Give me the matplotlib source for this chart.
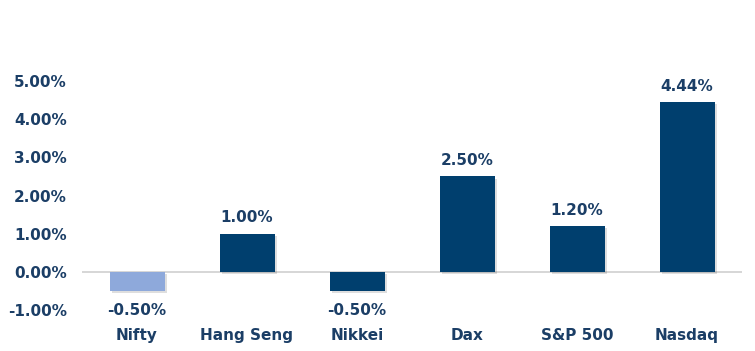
import matplotlib
matplotlib.use("Agg")
import matplotlib.pyplot as plt
import matplotlib.patheffects as pe

categories = ["Nifty", "Hang Seng", "Nikkei", "Dax", "S&P 500", "Nasdaq"]
values = [-0.50, 1.00, -0.50, 2.50, 1.20, 4.44]
yticks = [-1, 0, 1, 2, 3, 4, 5]

dark = "#003F6E"
light = "#8EA9DB"
text_c = "#1B3E66"
colors = [light] + [dark] * 5

plt.rcParams['font.family'] = ['DejaVu Sans']
FS = 11

W, H = 755, 351
fig = plt.figure(figsize=(W / 100, H / 100), dpi=100)
# axes in pixel coords: x 82..742, y(-1)=310, y(5)=81
ax = fig.add_axes([82 / W, (H - 310) / H, 660 / W, (310 - 81) / H])
x = list(range(len(categories)))
bars = ax.bar(x, values, width=0.5, color=colors, zorder=3)
for b in bars:
    b.set_path_effects([pe.SimplePatchShadow(offset=(1.5, -1.5), shadow_rgbFace='#000000', alpha=0.13), pe.Normal()])

ax.set_xlim(-0.5, 5.5)
ax.set_ylim(-1, 5)
ax.axhline(0, color="#D0D0D0", lw=1.2, zorder=2)
ax.set_yticks(yticks)
ax.set_yticklabels([f"{t:.2f}%" for t in yticks], fontsize=FS, fontweight='bold', color=text_c)
ax.set_xticks(x)
ax.set_xticklabels(categories, fontsize=FS, fontweight='bold', color=text_c)
ax.tick_params(axis='both', length=0)
ax.tick_params(axis='x', pad=13)
ax.tick_params(axis='y', pad=11)
for s in ax.spines.values():
    s.set_visible(False)

for xi, v in zip(x, values):
    if v >= 0:
        ax.annotate(f"{v:.2f}%", (xi, v), xytext=(0, 6), textcoords='offset points',
                    ha='center', va='bottom', fontsize=FS, fontweight='bold', color=text_c, annotation_clip=False)
    else:
        ax.annotate(f"{v:.2f}%", (xi, v), xytext=(0, -9), textcoords='offset points',
                    ha='center', va='top', fontsize=FS, fontweight='bold', color=text_c, annotation_clip=False)

fig.savefig("out.png", dpi=100)
